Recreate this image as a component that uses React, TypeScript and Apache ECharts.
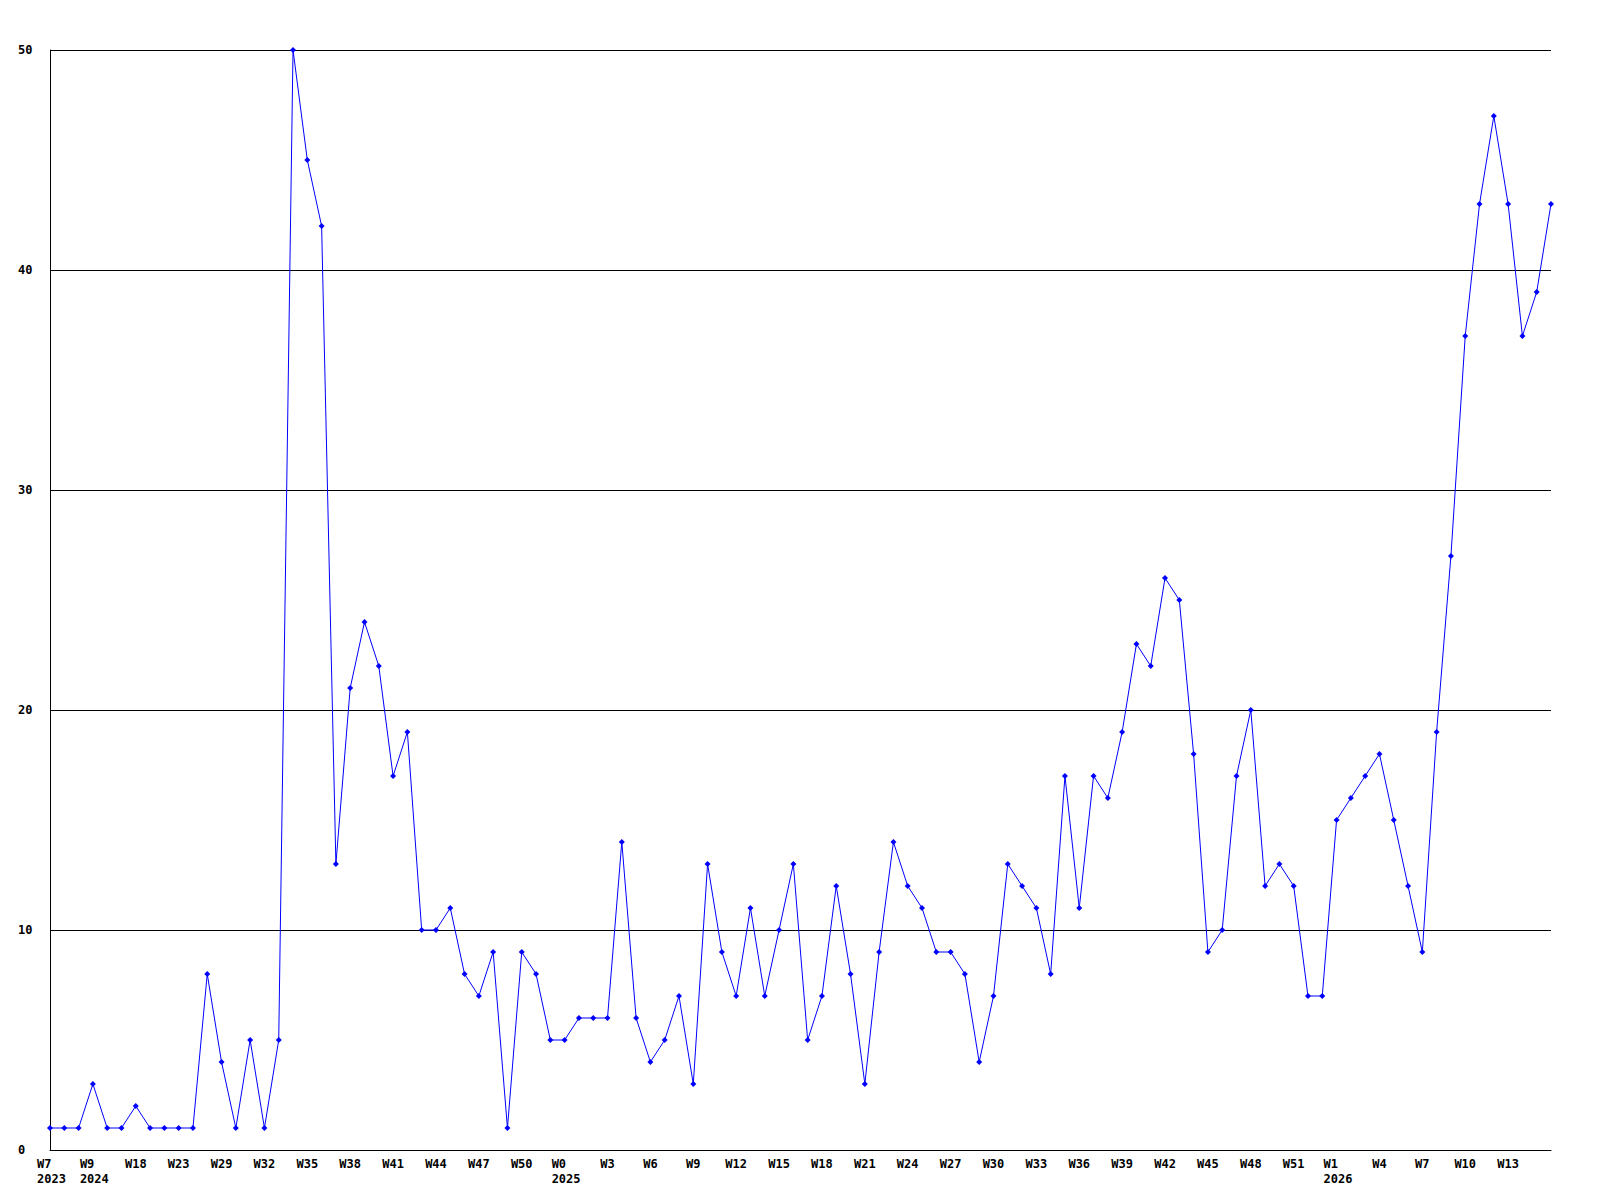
import React, { useEffect, useRef } from "react";
import * as echarts from "echarts";

const weekLabels: string[] = [
  "W7\n2023", "W9\n2024", "W18", "W23", "W29", "W32", "W35", "W38", "W41", "W44", "W47", "W50",
  "W0\n2025", "W3", "W6", "W9", "W12", "W15", "W18", "W21", "W24", "W27", "W30", "W33", "W36",
  "W39", "W42", "W45", "W48", "W51", "W1\n2026", "W4", "W7", "W10", "W13",
];

const values: number[] = [
  1, 1, 1, 3, 1, 1, 2, 1, 1, 1, 1, 8, 4, 1, 5, 1, 5, 50, 45, 42,
  13, 21, 24, 22, 17, 19, 10, 10, 11, 8, 7, 9, 1, 9, 8, 5, 5, 6, 6, 6,
  14, 6, 4, 5, 7, 3, 13, 9, 7, 11, 7, 10, 13, 5, 7, 12, 8, 3, 9, 14,
  12, 11, 9, 9, 8, 4, 7, 13, 12, 11, 8, 17, 11, 17, 16, 19, 23, 22, 26, 25,
  18, 9, 10, 17, 20, 12, 13, 12, 7, 7, 15, 16, 17, 18, 15, 12, 9, 19, 27, 37,
  43, 47, 43, 37, 39, 43,
];

const yTicks = { min: 0, max: 50, interval: 10 };
const labelStep = 3;

export default function App() {
  const ref = useRef<HTMLDivElement>(null);

  useEffect(() => {
    if (!ref.current) return;
    const chart = echarts.init(ref.current, undefined, { renderer: "svg" });
    const font = "DejaVu Sans Mono";
    chart.setOption({
      animation: false,
      backgroundColor: "#ffffff",
      grid: { left: 50, right: 49, top: 50, bottom: 50, containLabel: false },
      xAxis: {
        type: "category",
        boundaryGap: false,
        data: values.map((_, i) => String(i)),
        axisLine: { show: true, lineStyle: { color: "#000", width: 1 } },
        axisTick: { show: false },
        splitLine: { show: false },
        axisLabel: {
          interval: labelStep - 1,
          margin: 6,
          color: "#000",
          fontFamily: font,
          fontWeight: "bold",
          fontSize: 12,
          lineHeight: 15,
          formatter: (v: string) => {
            const i = Number(v);
            if (i % labelStep !== 0) return "";
            const lab = weekLabels[i / labelStep] || "";
            if (lab.indexOf("\n") >= 0) {
              const parts = lab.split("\n");
              return `{y|${parts[0]}}\n{y|${parts[1]}}`;
            }
            return lab;
          },
          rich: {
            y: {
              width: 26,
              align: "left",
              color: "#000",
              fontFamily: font,
              fontWeight: "bold",
              fontSize: 12,
              lineHeight: 15,
            },
          },
        },
      },
      yAxis: {
        type: "value",
        min: yTicks.min,
        max: yTicks.max,
        interval: yTicks.interval,
        axisLine: { show: true, lineStyle: { color: "#000", width: 1 } },
        axisTick: { show: false },
        splitLine: { show: true, lineStyle: { color: "#000", width: 1 } },
        axisLabel: {
          align: "left",
          margin: 32,
          color: "#000",
          fontFamily: font,
          fontWeight: "bold",
          fontSize: 12,
        },
      },
      series: [
        {
          type: "line",
          data: values,
          symbol: "diamond",
          symbolSize: 6,
          showAllSymbol: true,
          lineStyle: { color: "#0000ff", width: 1 },
          itemStyle: { color: "#0000ff" },
        },
      ],
    });
    return () => chart.dispose();
  }, []);

  return (
    <div
      ref={ref}
      style={{ position: "absolute", left: 0, top: 0, width: 1600, height: 1200, background: "#fff" }}
    />
  );
}
